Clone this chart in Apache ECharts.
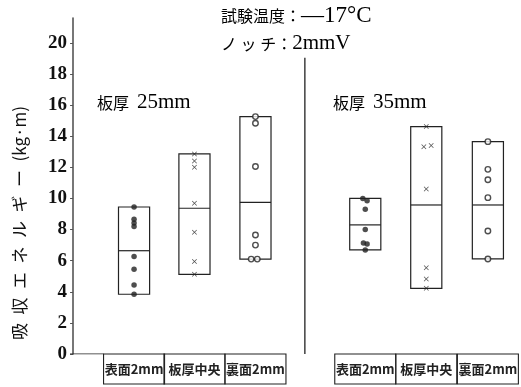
<!DOCTYPE html>
<html><head><meta charset="utf-8">
<script src="https://cdn.jsdelivr.net/npm/echarts@6/dist/echarts.min.js"></script>
<style>html,body{margin:0;padding:0;background:#fff}#c{width:521px;height:387px}</style>
</head><body><div id="c"></div>
<script>
// ---- data ----
const categories = ['表面2mm', '板厚中央', '裏面2mm', '表面2mm', '板厚中央', '裏面2mm'];
const positions = [1.0, 1.99, 2.99, 4.79, 5.79, 6.8];
const boxMin = [3.84, 5.12, 6.1, 6.69, 4.22, 6.11];
const boxMedian = [6.64, 9.37, 9.75, 8.3, 9.58, 9.58];
const boxMax = [9.45, 12.86, 15.26, 10.01, 14.62, 13.65];
// points: [x jitter, value]
const surface25 = [[0, 9.45], [0, 8.66], [0, 8.42], [0, 8.19], [0, 6.26], [0, 5.45], [0, 4.44], [0, 3.84]];
const center25 = [[0, 12.86], [0, 12.4], [0, 12.0], [0, 9.69], [0, 7.82], [0, 5.94], [0, 5.12]];
const back25 = [[0, 15.26], [0, 14.83], [0, 12.05], [0, 7.65], [0, 7.0], [-0.07, 6.1], [0.03, 6.1]];
const surface35 = [[-0.04, 10.0], [0.03, 9.85], [0, 9.3], [0, 8.0], [-0.03, 7.13], [0.03, 7.07], [0, 6.69]];
const center35 = [[0, 14.62], [-0.04, 13.33], [0.08, 13.4], [0, 10.61], [0, 5.55], [0, 4.82], [0, 4.22]];
const back35 = [[0, 13.65], [0, 11.87], [0, 11.2], [0, 10.05], [0, 7.91], [0, 6.11]];
const yTicks = [0, 2, 4, 6, 8, 10, 12, 14, 16, 18, 20];
const dividerX = 3.8, dividerTop = 19.04;
const xMin = -0.05, xMax = 7.31, yMax = 21.6;

const INK = '#222';
const SERIF = '"Liberation Serif","DejaVu Serif","Noto Sans CJK JP",serif';
const CJK = '"Noto Sans CJK JP",sans-serif';

const pointSets = [surface25, center25, back25, surface35, center35, back35];
const kinds = ['dot', 'cross', 'ring', 'dot', 'cross', 'ring'];
const crossPath = 'path://M0,1L1,0L5,4L9,0L10,1L6,5L10,9L9,10L5,6L1,10L0,9L4,5Z';

const boxData = positions.map((x, i) => [x, boxMin[i], boxMedian[i], boxMax[i]]);
const HW = 0.255;

const series = [];
series.push({
  type: 'custom', clip: false, silent: true, z: 3,
  data: boxData,
  renderItem(params, api) {
    const x = api.value(0);
    const tl = api.coord([x - HW, api.value(3)]);
    const br = api.coord([x + HW, api.value(1)]);
    const m = api.coord([x, api.value(2)]);
    return { type: 'group', children: [
      { type: 'rect', shape: { x: tl[0], y: tl[1], width: br[0] - tl[0], height: br[1] - tl[1] },
        style: { fill: 'none', stroke: INK, lineWidth: 1.2 } },
      { type: 'line', shape: { x1: tl[0], y1: m[1], x2: br[0], y2: m[1] },
        style: { stroke: INK, lineWidth: 1.2 } }
    ]};
  }
});
pointSets.forEach((set, i) => {
  const k = kinds[i];
  series.push({
    type: 'scatter', z: 5, silent: true,
    symbol: k === 'cross' ? crossPath : 'circle',
    symbolSize: k === 'cross' ? 5 : (k === 'ring' ? 5.5 : 5.5),
    itemStyle: k === 'ring' ? { color: '#fff', borderColor: INK, borderWidth: 1.4 } : { color: INK },
    data: set.map(p => [positions[i] + p[0], p[1]])
  });
});
// category label boxes under the axis
series.push({
  type: 'custom', clip: false, silent: true, z: 4,
  data: positions.map((x, i) => [x, i]),
  renderItem(params, api) {
    const x = api.value(0);
    const l = api.coord([x - 0.5, 0]);
    const r = api.coord([x + 0.5, 0]);
    return { type: 'group', children: [
      { type: 'rect', shape: { x: l[0], y: l[1], width: r[0] - l[0], height: 30 },
        style: { fill: 'none', stroke: INK, lineWidth: 1.1 } },
      { type: 'text', x: (l[0] + r[0]) / 2, y: l[1] + 15,
        style: { text: categories[api.value(1)], fontSize: 13, fontWeight: 'bold', fontFamily: CJK, fill: INK,
                 align: 'center', verticalAlign: 'middle' } }
    ]};
  }
});
// divider
series.push({ type: 'line', silent: true, symbol: 'none', z: 2,
  lineStyle: { color: INK, width: 1.3 },
  data: [[dividerX, 0], [dividerX, dividerTop]] });
// x-axis segment from y axis to first label box
series.push({ type: 'line', silent: true, symbol: 'none', z: 2,
  lineStyle: { color: INK, width: 1.1 },
  data: [[xMin, 0], [positions[0] - 0.5, 0]] });

const rich = {
  j: { fontSize: 16, fontFamily: CJK, color: '#111' },
  c: { fontSize: 16, fontFamily: CJK, color: '#111' },
  l: { fontSize: 21, fontFamily: SERIF, color: '#111' },
  t: { fontSize: 23, fontFamily: SERIF, color: '#111' }
};

const chart = echarts.init(document.getElementById('c'), null, { renderer: 'canvas' });
chart.setOption({
  animation: false,
  backgroundColor: '#fff',
  grid: { left: 70, right: 2, top: 18, bottom: 33, containLabel: false },
  xAxis: { type: 'value', min: xMin, max: xMax, show: false },
  yAxis: {
    type: 'value', min: 0, max: yMax, interval: 2,
    axisLine: { show: true, lineStyle: { color: '#555', width: 1.6 } },
    axisTick: { show: true, length: 3, customValues: yTicks, lineStyle: { color: '#555' } },
    axisLabel: { customValues: yTicks, margin: 3, fontFamily: SERIF, fontWeight: 'bold', fontSize: 19, color: '#111',
      formatter: v => (yTicks.indexOf(v) >= 0 ? String(v) : '') },
    splitLine: { show: false }
  },
  graphic: [
    { type: 'text', left: 221, top: 4, style: { text: '{j|試験温度}{c|：}{t|—17°C}', rich } },
    { type: 'text', left: 221, top: 33, style: { text: '{j|ノ ッ チ}{c|：}{l|2mmV}', rich } },
    { type: 'text', left: 97, top: 92, style: { text: '{j|板厚\u2002}{l|25mm}', rich } },
    { type: 'text', left: 333, top: 92, style: { text: '{j|板厚\u2002}{l|35mm}', rich } },
    { type: 'text', x: 20, y: 223, rotation: Math.PI / 2,
      style: { text: '吸\u2002収\u2002エ\u2002ネ\u2002ル\u2002ギ\u2002ー\u2002(kg·m)', fontSize: 17, fontFamily: CJK, fill: '#111',
               align: 'center', verticalAlign: 'middle' } }
  ],
  series
});
</script></body></html>
